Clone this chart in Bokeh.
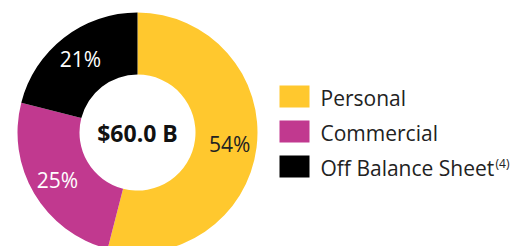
import math
from bokeh.plotting import figure
from bokeh.models import Range1d, ColumnDataSource
from bokeh.core.properties import value
from bokeh.embed import file_html
from bokeh.resources import INLINE

categories = ["Personal", "Commercial", "Off Balance Sheet"]
shares = [54, 25, 21]
pct_labels = ["54%", "25%", "21%"]
total_label = "$60.0 B"
colors = ["#FFC82E", "#C1398F", "#000000"]
label_colors = ["#222222", "#FFFFFF", "#FFFFFF"]
footnote = "(4)"

W, H = 515, 246
p = figure(width=W, height=H, output_backend="svg", toolbar_location=None,
           x_range=Range1d(0, W), y_range=Range1d(0, H),
           min_border=0, outline_line_color=None)
p.axis.visible = False
p.grid.visible = False
p.background_fill_color = "white"
p.border_fill_color = "white"

def py(v):
    return H - v

cx, cy = 137, py(132)
r_out, r_in = 120, 58

starts, ends, mids = [], [], []
a = 90.0
total = sum(shares)
for s in shares:
    sweep = 360.0 * s / total
    starts.append(math.radians(a))
    ends.append(math.radians(a - sweep))
    mids.append(math.radians(a - sweep / 2))
    a -= sweep

src = ColumnDataSource(dict(start=starts, end=ends, color=colors))
p.annular_wedge(x=cx, y=cy, inner_radius=r_in, outer_radius=r_out,
                start_angle="start", end_angle="end", direction="clock",
                fill_color="color", line_color=None, source=src)

lr = 93
lsrc = ColumnDataSource(dict(x=[cx + lr * math.cos(m) for m in mids],
                             y=[cy + lr * math.sin(m) for m in mids],
                             t=pct_labels, c=label_colors))
p.text(x="x", y="y", text="t", text_color="c", source=lsrc,
       text_font=value("Open Sans"), text_font_size="21px",
       text_align="center", text_baseline="middle")

p.text(x=[cx], y=[cy], text=[total_label], text_font=value("Open Sans"),
       text_font_style="bold", text_font_size="23px", text_color="#111111",
       text_align="center", text_baseline="middle")

# legend
ly = [py(96), py(131), py(166)]
p.rect(x=[294] * 3, y=ly, width=30, height=22, fill_color=colors, line_color=None)
p.text(x=[320] * 3, y=[v - 1 for v in ly], text=categories, text_color="#222222",
       text_font=value("Open Sans"), text_font_size="21px",
       text_align="left", text_baseline="middle")
p.text(x=[495], y=[py(163)], text=[footnote], text_color="#222222",
       text_font=value("Open Sans"), text_font_size="12px",
       text_align="left", text_baseline="middle")

open("out.html", "w").write(file_html(p, INLINE))
